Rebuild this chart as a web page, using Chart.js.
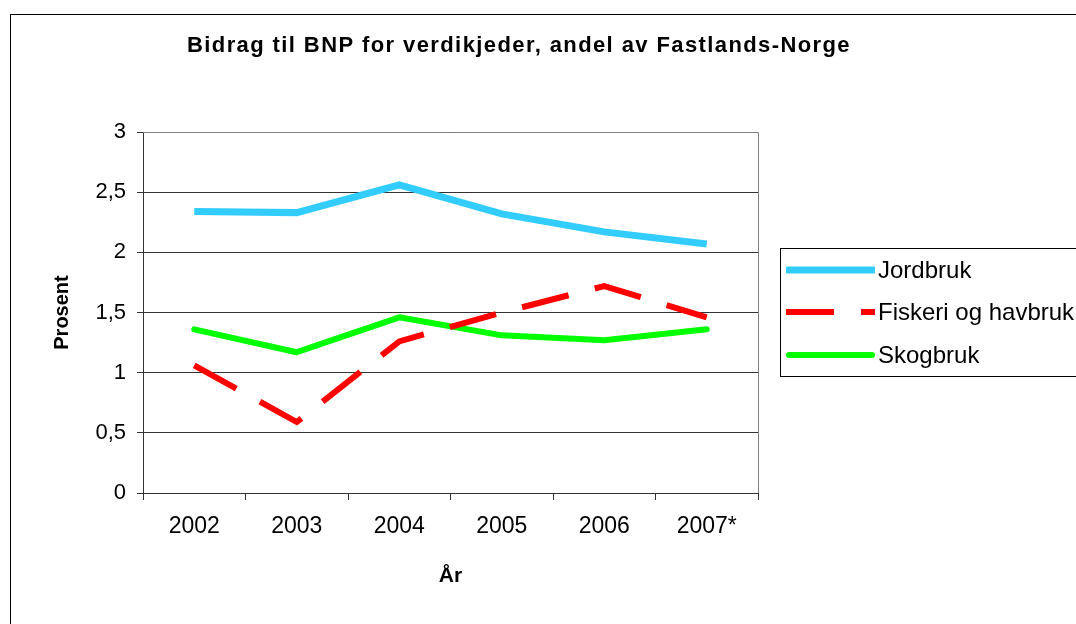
<!DOCTYPE html>
<html>
<head>
<meta charset="utf-8">
<script src="https://cdn.jsdelivr.net/npm/chart.js@4.4.1/dist/chart.umd.min.js"></script>
<style>
  html, body { margin: 0; padding: 0; background: #fff; }
  #wrap { width: 1076px; height: 624px; }
</style>
</head>
<body>
<div id="wrap"><canvas id="bnpChart"></canvas></div>
<script>
const tittel = 'Bidrag til BNP for verdikjeder, andel av Fastlands-Norge'
const aar = ['2002', '2003', '2004', '2005', '2006', '2007*']
const jordbruk = [2.34, 2.33, 2.56, 2.32, 2.17, 2.07]
const fiskeri = [1.06, 0.59, 1.26, 1.50, 1.72, 1.46]
const skogbruk = [1.36, 1.17, 1.46, 1.31, 1.27, 1.36]
const yTicks = [0, 0.5, 1, 1.5, 2, 2.5, 3]

const fontFam = '"Liberation Sans", Arial, sans-serif'

// ramme, tittel, plotkant og forklaring tegnes her
const pynt = {
    id: 'pynt',
    afterDraw(chart) {
        const ctx = chart.ctx
        const a = chart.chartArea
        ctx.save()

        // ytre ramme
        ctx.strokeStyle = '#000'
        ctx.lineWidth = 1
        ctx.strokeRect(10.5, 14.5, 1200, 800)

        // tittel
        ctx.fillStyle = '#000'
        ctx.font = 'bold 22px ' + fontFam
        ctx.letterSpacing = '1.4px'
        ctx.textAlign = 'center'
        ctx.textBaseline = 'middle'
        ctx.fillText(tittel, 519, 46)
        ctx.letterSpacing = '0px'

        // topp- og høyrekant av plottet
        ctx.strokeStyle = '#808080'
        ctx.beginPath()
        ctx.moveTo(a.left, a.top + 0.5)
        ctx.lineTo(a.right + 0.5, a.top + 0.5)
        ctx.lineTo(a.right + 0.5, a.bottom)
        ctx.stroke()

        // forklaring
        const bx = 780, by = 248
        ctx.strokeStyle = '#000'
        ctx.strokeRect(bx + 0.5, by + 0.5, 400, 128)
        ctx.font = '24px ' + fontFam
        ctx.textAlign = 'left'
        const rader = [270, 312, 355]
        chart.data.datasets.forEach((ds, i) => {
            const y = rader[i]
            ctx.strokeStyle = ds.borderColor
            ctx.lineWidth = ds.borderWidth
            ctx.lineCap = ds.borderCapStyle || 'butt'
            ctx.setLineDash(ds.borderDash || [])
            ctx.beginPath()
            ctx.moveTo(ds.borderCapStyle === 'round' ? 789 : 786, y)
            ctx.lineTo(ds.borderCapStyle === 'round' ? 872 : 875, y)
            ctx.stroke()
            ctx.setLineDash([])
            ctx.fillStyle = '#000'
            ctx.fillText(ds.label, 878, y + 1)
        })
        ctx.restore()
    }
}

const graf = new Chart(document.getElementById('bnpChart'), {
    type: 'line',
    data: {
        labels: aar,
        datasets: [{
            label: 'Jordbruk',
            data: jordbruk,
            borderColor: '#33CCFF',
            borderWidth: 7,
            pointRadius: 0,
            tension: 0
        }, {
            label: 'Fiskeri og havbruk',
            data: fiskeri,
            borderColor: '#FF0000',
            borderWidth: 6,
            borderDash: [48, 27],
            pointRadius: 0,
            tension: 0
        }, {
            label: 'Skogbruk',
            data: skogbruk,
            borderColor: '#00FF00',
            borderWidth: 6,
            borderCapStyle: 'round',
            borderJoinStyle: 'round',
            pointRadius: 0,
            tension: 0
        }]
    },
    options: {
        responsive: true,
        maintainAspectRatio: false,
        animation: false,
        layout: { padding: { left: 0, top: 132, right: 318, bottom: 0 } },
        plugins: {
            legend: { display: false },
            tooltip: { enabled: false }
        },
        scales: {
            x: {
                offset: true,
                afterFit: s => { s.height = 131 },
                grid: { offset: true, drawOnChartArea: false, drawTicks: true, tickLength: 7, color: '#333' },
                border: { display: true, color: '#333', width: 1 },
                ticks: { color: '#000', padding: 13, font: { family: fontFam, size: 23 } },
                title: { display: true, text: 'År', color: '#000', padding: { top: 0, bottom: 35 },
                    font: { family: fontFam, size: 21, weight: 'bold' } }
            },
            y: {
                min: 0,
                max: 3,
                afterFit: s => { s.width = 143 },
                afterBuildTicks: s => { s.ticks = yTicks.map(v => ({ value: v })) },
                grid: { color: '#333', tickLength: 6, tickColor: '#333' },
                border: { display: true, color: '#333', width: 1 },
                ticks: {
                    color: '#000', padding: 11,
                    font: { family: fontFam, size: 22 },
                    callback: v => String(v).replace('.', ',')
                },
                title: { display: true, text: 'Prosent', color: '#000', padding: { top: 50, bottom: 0 },
                    font: { family: fontFam, size: 20, weight: 'bold' } }
            }
        }
    },
    plugins: [pynt]
})
</script>
</body>
</html>
